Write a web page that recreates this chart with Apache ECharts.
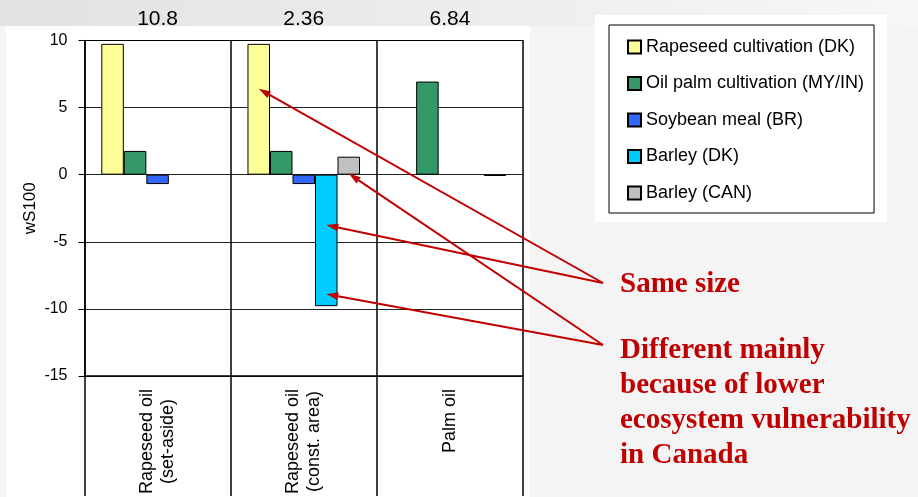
<!DOCTYPE html>
<html>
<head>
<meta charset="utf-8">
<script src="https://cdn.jsdelivr.net/npm/echarts@6/dist/echarts.min.js"></script>
<style>
html,body{margin:0;padding:0;background:#f4f4f4;}
#chart{width:918px;height:497px;}
</style>
</head>
<body>
<div id="chart"></div>
<script>
// ---- data ----
const categories = ['Rapeseed oil\n(set-aside)', 'Rapeseed oil\n(const. area)', 'Palm oil'];
const totals = ['10.8', '2.36', '6.84'];
const seriesNames = ['Rapeseed cultivation (DK)', 'Oil palm cultivation (MY/IN)', 'Soybean meal (BR)', 'Barley (DK)', 'Barley (CAN)'];
const rapeseedDK = [9.75, 9.75, null];
const oilPalm = [1.77, 1.77, 6.94];
const soybeanBR = [-0.70, -0.70, null];
const barleyDK = [null, -9.80, null];
const barleyCAN = [null, 1.34, -0.10];
const yTicks = { min: -15, max: 10, interval: 5 };
const axisTitle = 'wS100';
const noteSame = 'Same size';
const noteDiff = 'Different mainly\nbecause of lower\necosystem vulnerability\nin Canada';

const colors = ['#ffff99', '#339966', '#3366ff', '#00ccff', '#c0c0c0'];
const seriesData = [rapeseedDK, oilPalm, soybeanBR, barleyDK, barleyCAN];
const SANS = 'Liberation Sans, Arial, sans-serif';
const SERIF = 'Liberation Serif, Times New Roman, serif';
const CAT_GAP = 0.23;

const chart = echarts.init(document.getElementById('chart'));
const option = {
  animation: false,
  backgroundColor: 'transparent',
  grid: { left: 84.5, right: 395, top: 40.5, bottom: 120, containLabel: false },
  legend: {
    orient: 'vertical', left: 609, top: 25,
    padding: [13, 10, 11, 18],
    icon: 'rect',
    itemWidth: 13, itemHeight: 13, itemGap: 18.5,
    borderColor: '#000', borderWidth: 1, backgroundColor: '#fff',
    textStyle: { fontFamily: SANS, fontSize: 18, color: '#000' },
    data: seriesNames
  },
  xAxis: [{
    type: 'category', data: categories, position: 'bottom',
    axisLine: { onZero: false, lineStyle: { color: '#000', width: 1.5 } },
    axisTick: { show: true, length: 120, interval: 0, lineStyle: { color: '#000', width: 1.5 } },
    splitLine: { show: true, interval: 0, lineStyle: { color: '#000', width: 1.5 } },
    axisLabel: {
      interval: 0, rotate: 90, margin: 13,
      formatter: v => v.split('\n').map(s => '{c|' + s + '}').join('\n'),
      rich: { c: { align: 'center', fontFamily: SANS, fontSize: 18, lineHeight: 21, color: '#000' } }
    }
  }, {
    type: 'category', data: totals, position: 'top',
    axisLine: { show: true, onZero: false, lineStyle: { color: '#000', width: 1 } },
    axisTick: { show: false },
    axisLabel: { interval: 0, margin: 11, fontFamily: SANS, fontSize: 21, color: '#000' }
  }],
  yAxis: {
    type: 'value', min: yTicks.min, max: yTicks.max, interval: yTicks.interval,
    name: axisTitle, nameLocation: 'middle', nameGap: 46, nameRotate: 90,
    nameTextStyle: { fontFamily: SANS, fontSize: 17, color: '#000' },
    axisLine: { show: true, lineStyle: { color: '#000', width: 1.5 } },
    axisTick: { show: true, length: 6, lineStyle: { color: '#000' } },
    splitLine: { show: true, lineStyle: { color: '#222', width: 1 } },
    axisLabel: { fontFamily: SANS, fontSize: 16, color: '#000', margin: 17 }
  },
  series: seriesNames.map((n, i) => ({
    name: n, type: 'bar', data: seriesData[i], xAxisIndex: 0,
    barGap: '0%', barCategoryGap: (CAT_GAP * 100) + '%',
    itemStyle: { color: colors[i], borderColor: '#000', borderWidth: 1 }
  }))
};
chart.setOption(option);

// ---- annotation arrows, anchored to bar data ----
const arrowTargets = [
  { from: 0, cat: 1, ser: 0, val: 6.4 },
  { from: 0, cat: 1, ser: 3, val: -3.75 },
  { from: 1, cat: 1, ser: 4, val: 0.08 },
  { from: 1, cat: 1, ser: 3, val: -8.9 }
];
const noteAnchors = [[603, 283], [603, 345]];
const RED = '#c00000';

function barPoint(cat, ser, val) {
  const cx = chart.convertToPixel({ xAxisIndex: 0 }, categories[cat]);
  const band = chart.convertToPixel({ xAxisIndex: 0 }, categories[1]) - chart.convertToPixel({ xAxisIndex: 0 }, categories[0]);
  const n = seriesNames.length;
  const bw = band * (1 - CAT_GAP) / n;
  const x = cx + (ser - (n - 1) / 2) * bw;
  const y = chart.convertToPixel({ yAxisIndex: 0 }, val);
  return [x, y];
}

const graphics = [
  { type: 'rect', z: -10, silent: true, shape: { x: 0, y: 0, width: 918, height: 26 },
    style: { fill: new echarts.graphic.LinearGradient(0, 0, 1, 0, [{ offset: 0, color: '#e2e2e2' }, { offset: 1, color: '#f7f7f7' }]) } },
  { type: 'rect', z: -9, silent: true, shape: { x: 6, y: 26, width: 524, height: 471 }, style: { fill: '#fff' } },
  { type: 'rect', z: -9, silent: true, shape: { x: 595, y: 15, width: 292, height: 207 }, style: { fill: '#fff' } },
  { type: 'text', z: 20, style: { text: noteSame, x: 620, y: 285, verticalAlign: 'middle', font: 'bold 29px ' + SERIF, fill: RED } },
  { type: 'text', z: 20, style: { text: noteDiff, x: 620, y: 333, verticalAlign: 'top', lineHeight: 35, font: 'bold 29px ' + SERIF, fill: RED } }
];
arrowTargets.forEach(a => {
  const [sx, sy] = noteAnchors[a.from];
  const [tx, ty] = barPoint(a.cat, a.ser, a.val);
  const dx = tx - sx, dy = ty - sy, len = Math.hypot(dx, dy);
  const ux = dx / len, uy = dy / len;
  const hl = 12, hw = 3.8;
  const bx = tx - ux * hl, by = ty - uy * hl;
  graphics.push({ type: 'line', z: 20, silent: true, shape: { x1: sx, y1: sy, x2: bx, y2: by }, style: { stroke: RED, lineWidth: 2 } });
  graphics.push({ type: 'polygon', z: 20, silent: true,
    shape: { points: [[tx, ty], [bx - uy * hw, by + ux * hw], [bx + uy * hw, by - ux * hw]] },
    style: { fill: RED } });
});
chart.setOption({ graphic: graphics });
</script>
</body>
</html>
